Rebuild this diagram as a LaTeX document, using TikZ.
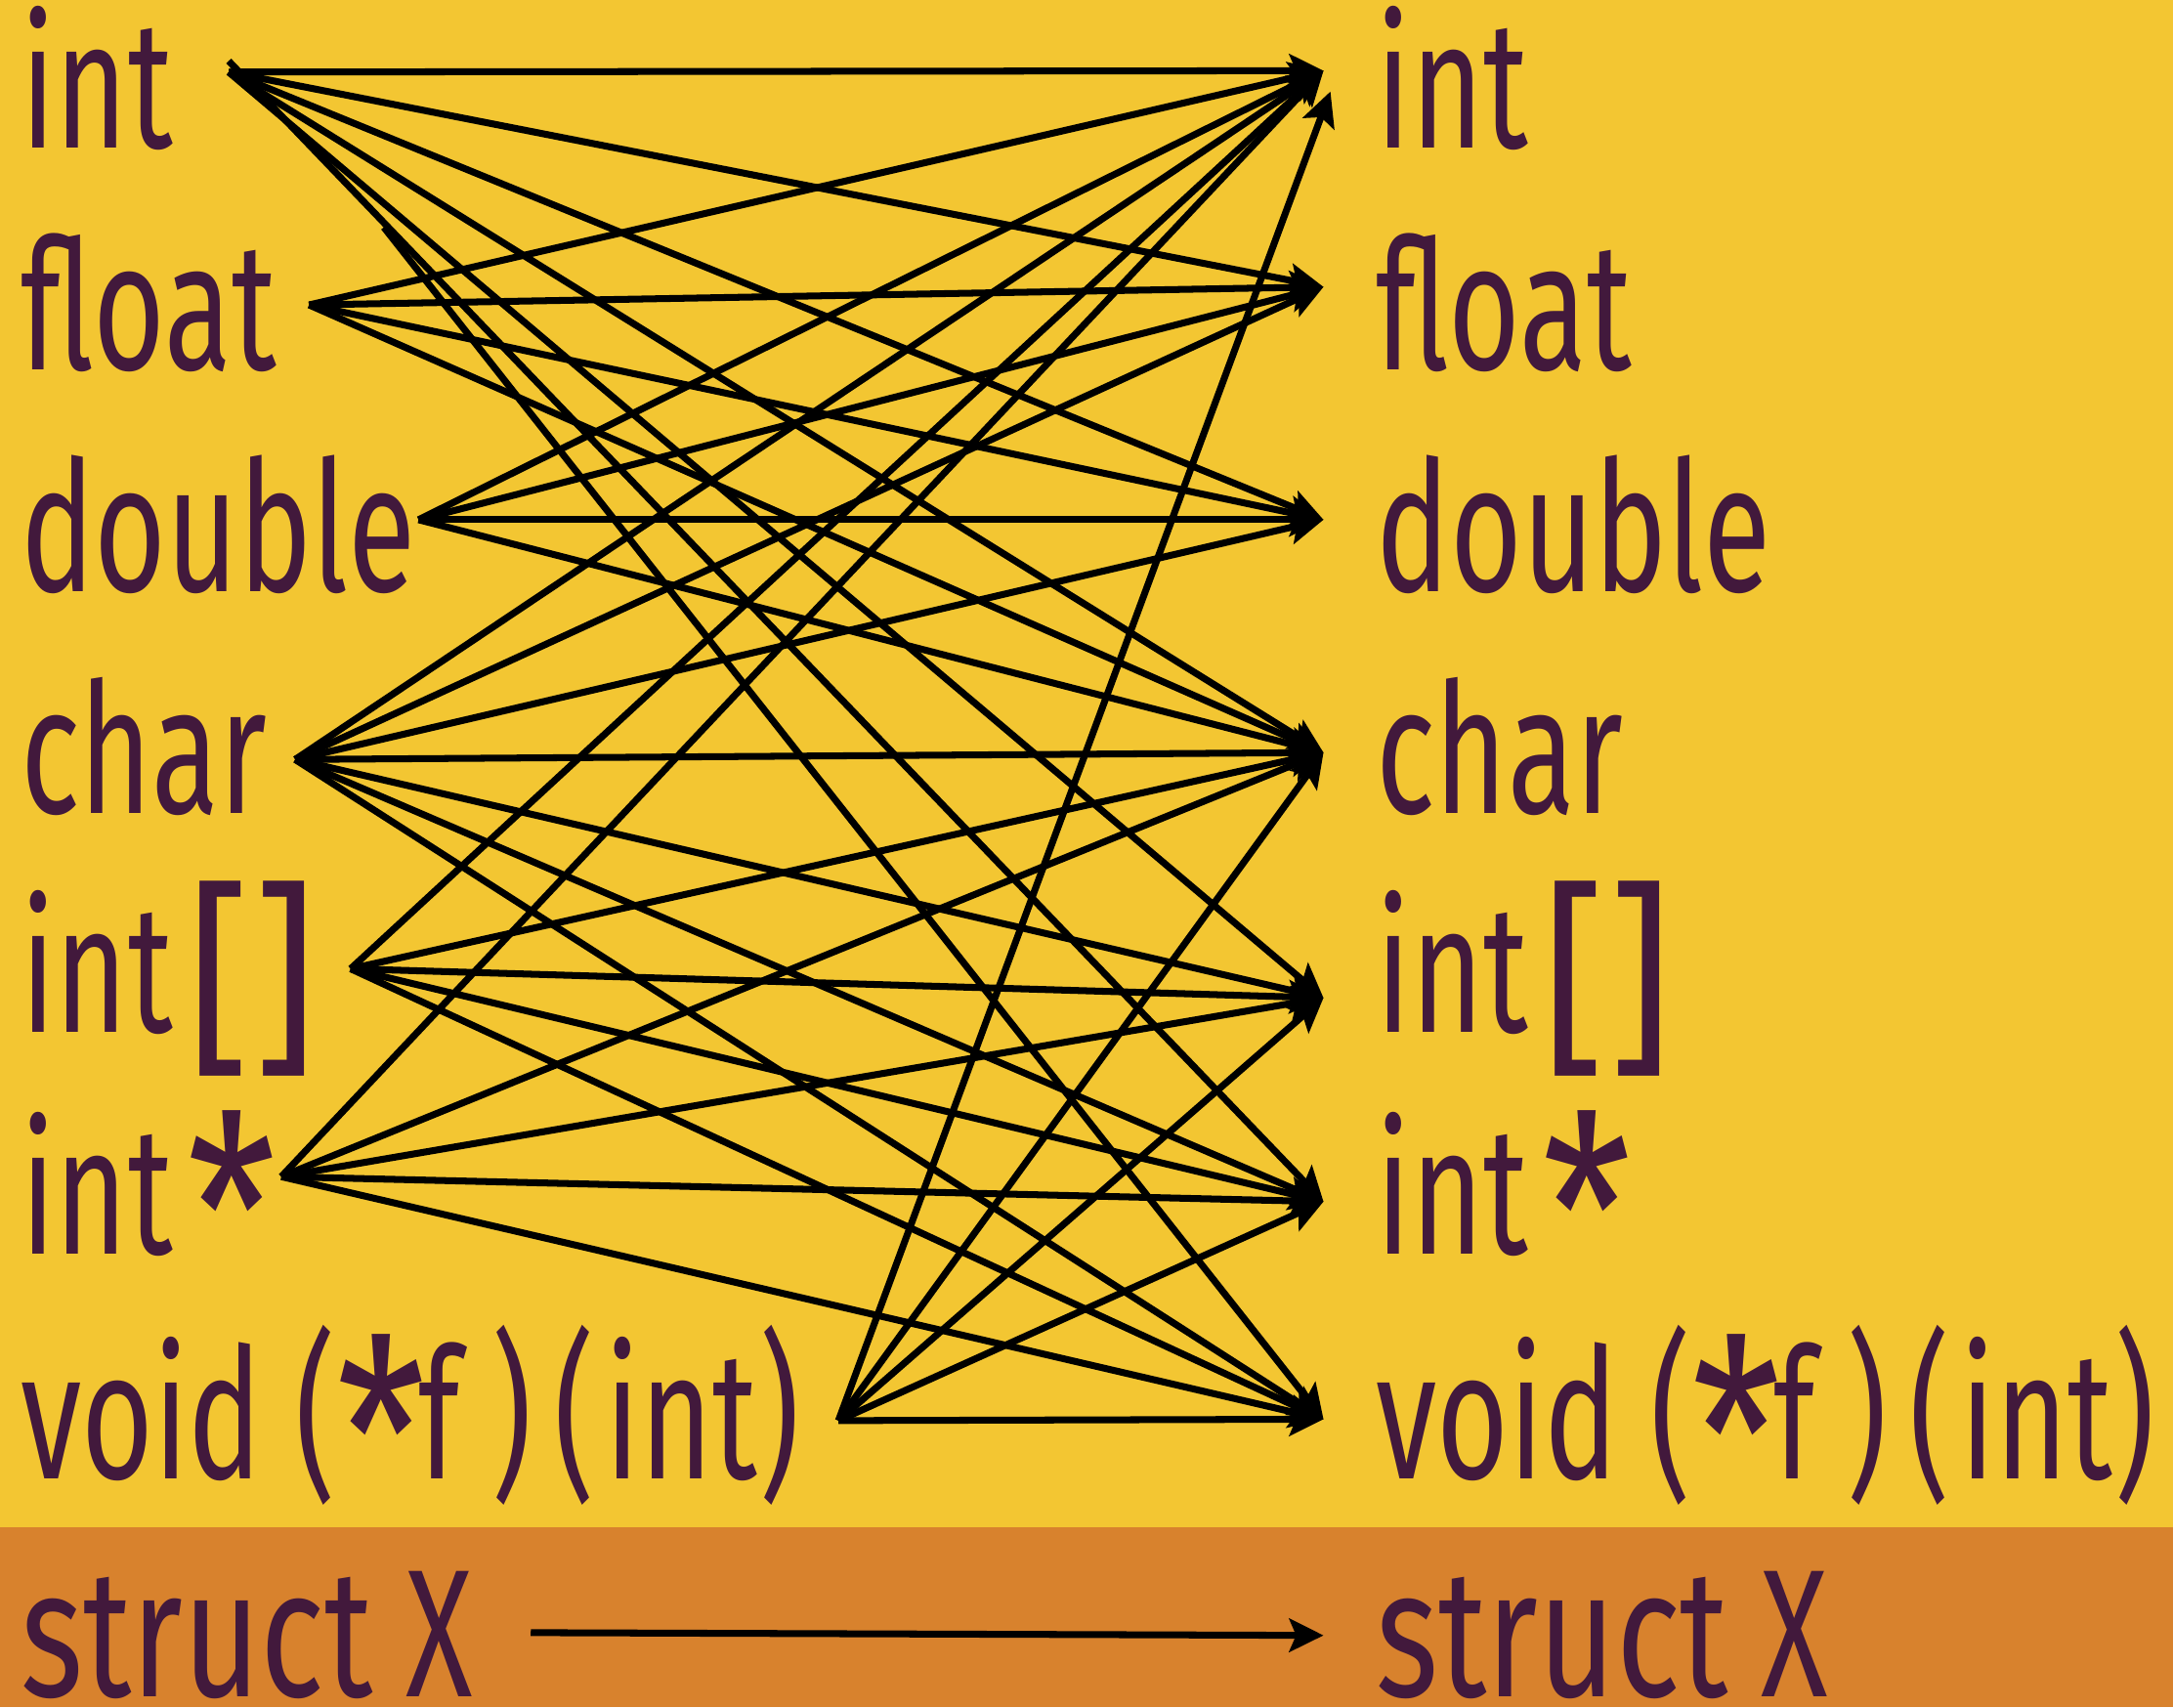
\documentclass[tikz,border=0pt]{standalone}
\usepackage{fontspec}
\usepackage{graphicx}
\setmainfont{Fira Sans}[FakeStretch=0.68]
\usetikzlibrary{arrows.meta}
\definecolor{bgyellow}{HTML}{F3C632}
\definecolor{bgorange}{HTML}{D8822D}
\definecolor{txtc}{HTML}{42193C}
\newlength\pxu \setlength\pxu{0.014184cm}
\newcommand\bx[2]{\makebox[#1\pxu][l]{#2}}
\newcommand\bigast{\smash{\raisebox{-15.2pt}{\scalebox{1.65}[1.46]{*}}}}
\newcommand\bigbrk[1]{\smash{\raisebox{-5.5pt}{\scalebox{1.6}[1.15]{#1}}}}
\begin{document}
\begin{tikzpicture}[x=0.014184cm,y=-0.014184cm,
  lbl/.style={anchor=base west, inner sep=0pt, outer sep=0pt, text=txtc, font=\fontsize{53}{53}\selectfont},
  arr/.style={line width=2pt, -{Stealth[length=0.35cm,width=0.34cm,inset=0.07cm]}}]
\fill[bgyellow] (0,0) rectangle (1568,1102);
\fill[bgorange] (0,1102) rectangle (1568,1232);
\useasboundingbox (0,0) rectangle (1568,1232);
% left labels
\node[lbl] (lint)    at (15,107)  {int};
\node[lbl] (lfloat)  at (15,267)  {float};
\node[lbl] (ldouble) at (15,427)  {double};
\node[lbl] (lchar)   at (15,587)  {char};
\node[lbl] (larr)    at (15,745)  {\bx{120}{int}\bx{48}{\bigbrk{[}}\bigbrk{]}};
\node[lbl] (lptr)    at (15,905)  {\bx{120}{int}\bigast};
\node[lbl] (lvoid)   at (15,1067) {\bx{198}{void}\bx{30}{(}\bx{59}{\bigast}\bx{53}{f}\bx{45}{)}\bx{37}{(}\bx{111}{int})};
\node[lbl, text depth=0pt] (lstruct) at (15,1224) {\bx{278}{\scalebox{1.08}[1]{struct}}X};
% right labels
\node[lbl] (rint)    at (993,107)  {int};
\node[lbl] (rfloat)  at (993,267)  {float};
\node[lbl] (rdouble) at (993,427)  {double};
\node[lbl] (rchar)   at (993,587)  {char};
\node[lbl] (rarr)    at (993,745)  {\bx{120}{int}\bx{48}{\bigbrk{[}}\bigbrk{]}};
\node[lbl] (rptr)    at (993,905)  {\bx{120}{int}\bigast};
\node[lbl] (rvoid)   at (993,1067) {\bx{198}{void}\bx{30}{(}\bx{59}{\bigast}\bx{53}{f}\bx{45}{)}\bx{37}{(}\bx{111}{int})};
\node[lbl, text depth=0pt] (rstruct) at (993,1224) {\bx{278}{\scalebox{1.08}[1]{struct}}X};
% connector ends
\coordinate (sInt)    at (165,52);
\coordinate (sIntB)   at (165,44);
\coordinate (sIntV)   at (277,164);
\coordinate (sFloat)  at (223,220);
\coordinate (sDouble) at (302,375);
\coordinate (sChar)   at (213,548);
\coordinate (sArr)    at (253,699);
\coordinate (sPtr)    at (203,849);
\coordinate (sVoid)   at (605,1025);
\coordinate (sStruct) at (383,1178);
\coordinate (eInt)    at (955,51);
\coordinate (eIntV)   at (960,66);
\coordinate (eFloat)  at (955,207);
\coordinate (eDouble) at (955,375);
\coordinate (eChar)   at (955,543);
\coordinate (eArr)    at (955,720);
\coordinate (ePtr)    at (955,867);
\coordinate (eVoid)   at (955,1024);
\coordinate (eStruct) at (955,1180);
% connectors
\foreach \e in {eInt,eFloat,eDouble,eChar,eArr} \draw[arr] (sInt) -- (\e);
\draw[arr] (sIntB) -- (ePtr);
\draw[arr] (sIntV) -- (eVoid);
\foreach \s in {sFloat,sDouble}
  \foreach \e in {eInt,eFloat,eDouble,eChar}
    \draw[arr] (\s) -- (\e);
\foreach \e in {eInt,eFloat,eDouble,eChar,eArr,ePtr,eVoid} \draw[arr] (sChar) -- (\e);
\foreach \s in {sArr,sPtr}
  \foreach \e in {eInt,eChar,eArr,ePtr,eVoid}
    \draw[arr] (\s) -- (\e);
\draw[arr] (sVoid) -- (eIntV);
\foreach \e in {eChar,eArr,ePtr,eVoid} \draw[arr] (sVoid) -- (\e);
\draw[arr] (sStruct) -- (eStruct);
\end{tikzpicture}
\end{document}
